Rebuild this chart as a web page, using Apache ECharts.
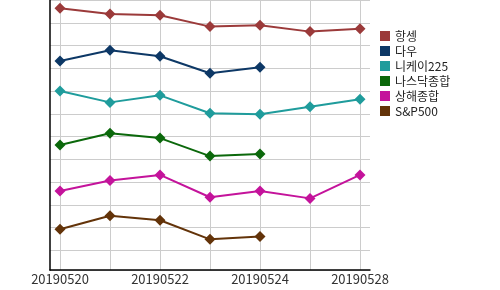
<!DOCTYPE html>
<html>
<head>
<meta charset="utf-8">
<script src="https://cdn.jsdelivr.net/npm/echarts@6/dist/echarts.min.js"></script>
<style>html,body{margin:0;padding:0;background:#fff}#c{width:500px;height:290px}</style>
</head>
<body>
<div id="c"></div>
<script>
// Categories (trading days)
var dates = ['20190520','20190521','20190522','20190523','20190524','20190527','20190528'];
// Series names
var names = ['항셍','다우','니케이225','나스닥종합','상해종합','S&P500'];
// Series values (relative position index; axis is inverted, no value labels shown)
var hangseng = [0.36, 0.62, 0.67, 1.17, 1.11, 1.39, 1.26];
var dow      = [2.68, 2.21, 2.47, 3.22, 2.96, null, null];
var nikkei   = [4.00, 4.50, 4.19, 4.98, 5.02, 4.69, 4.36];
var nasdaq   = [6.37, 5.86, 6.07, 6.86, 6.77, null, null];
var shanghai = [8.40, 7.93, 7.69, 8.67, 8.40, 8.72, 7.69];
var sp500    = [10.08, 9.48, 9.68, 10.52, 10.40, null, null];
var yMin = 0, yMax = 11.868, yStep = 1;

var colors = ['#9b3a3a','#0d3866','#1f9c9c','#0b680b','#c4139b','#633309'];
var allData = [hangseng, dow, nikkei, nasdaq, shanghai, sp500];

var chart = echarts.init(document.getElementById('c'), null, {renderer:'canvas'});
var series = names.map(function(n, i){
  return {
    name: n, type: 'line', xAxisIndex: 1, yAxisIndex: 1,
    data: allData[i], symbol: 'diamond', symbolSize: 11, showSymbol: true,
    connectNulls: false, animation: false,
    lineStyle: {width: 2, color: colors[i]},
    itemStyle: {color: colors[i]}
  };
});
chart.setOption({
  animation: false,
  color: colors,
  grid: [
    {left: 50, right: 130, top: 0, bottom: 20, containLabel: false},
    {left: 60, right: 140, top: 0, bottom: 20, containLabel: false}
  ],
  legend: {
    orient: 'vertical', left: 375, top: 25,
    itemWidth: 10, itemHeight: 10, itemGap: 3, icon: 'rect',
    textStyle: {fontFamily: 'Noto Sans CJK KR', fontSize: 12, color: '#222'},
    data: names
  },
  xAxis: [
    {gridIndex: 0, type: 'value', min: 0, max: 1, show: true,
     axisLine: {show: true, onZero: false, lineStyle: {color: '#000', width: 1.5}},
     axisTick: {show: false}, axisLabel: {show: false}, splitLine: {show: false}},
    {gridIndex: 1, type: 'category', data: dates, boundaryGap: false,
     axisLine: {show: false, onZero: false}, axisTick: {show: false},
     axisLabel: {interval: 1, margin: 3, fontFamily: 'Noto Sans CJK KR', fontSize: 13, color: '#333'},
     splitLine: {show: true, interval: 0, lineStyle: {color: '#cccccc', width: 1}}}
  ],
  yAxis: [
    {gridIndex: 0, type: 'value', inverse: true, min: yMin, max: yMax, interval: yStep,
     axisLine: {show: true, onZero: false, lineStyle: {color: '#000', width: 1.5}},
     axisTick: {show: false}, axisLabel: {show: false},
     splitLine: {show: true, lineStyle: {color: '#cccccc', width: 1}}},
    {gridIndex: 1, type: 'value', inverse: true, min: yMin, max: yMax, interval: yStep, show: false,
     splitLine: {show: false}}
  ],
  series: series
});
</script>
</body>
</html>
